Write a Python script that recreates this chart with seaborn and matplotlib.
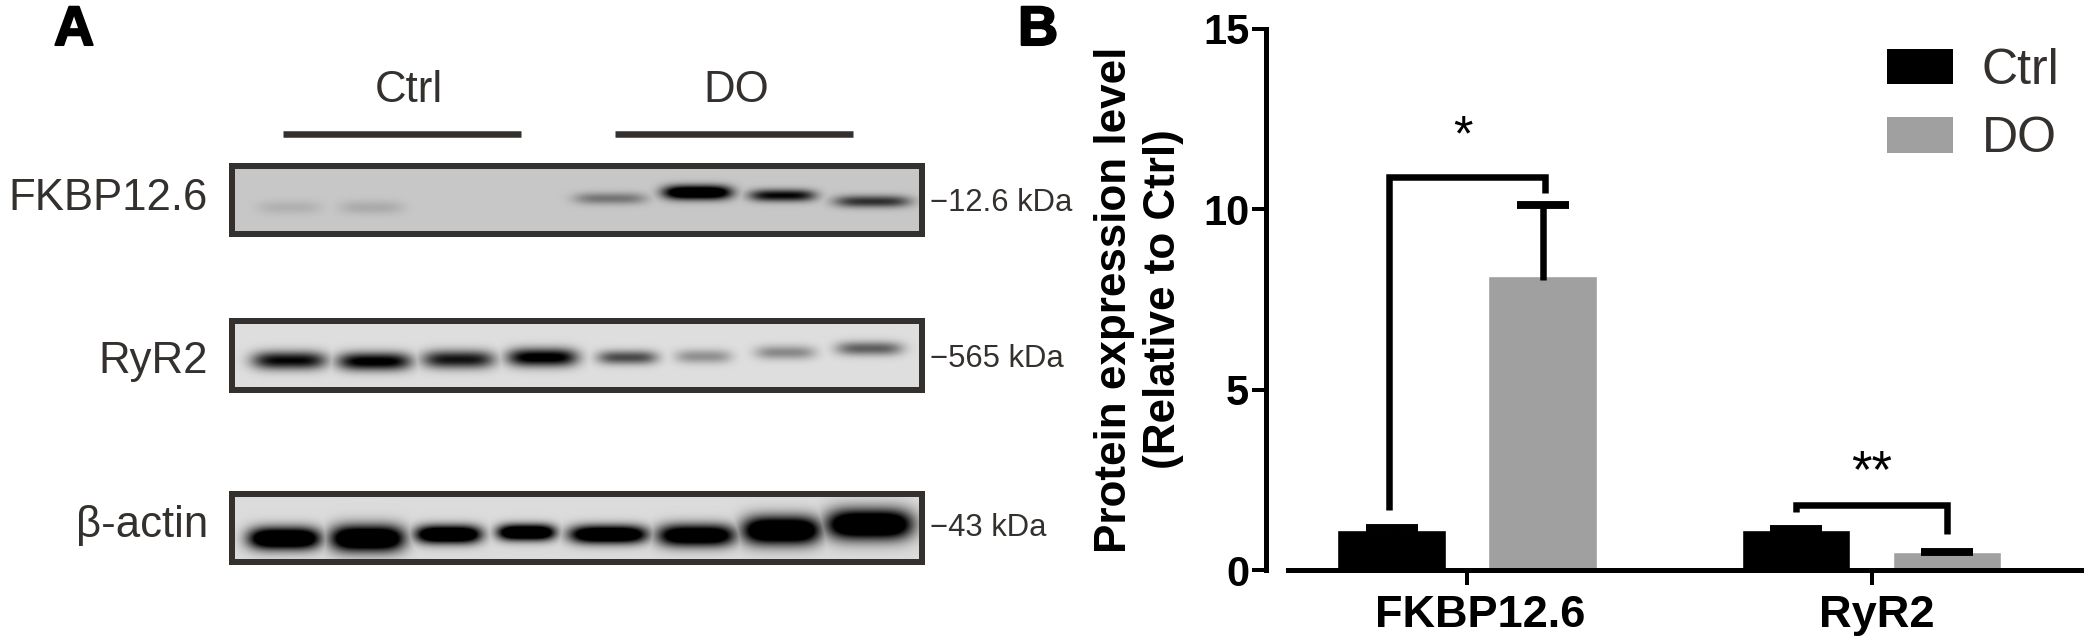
import numpy as np
import pandas as pd
import matplotlib
matplotlib.use("Agg")
import matplotlib.pyplot as plt
from matplotlib.patches import Patch
from matplotlib.transforms import offset_copy
import matplotlib.patheffects as pe
import seaborn as sns

sns.set_theme(style="white")
plt.rcParams["font.family"] = ["Liberation Sans", "DejaVu Sans"]

# ---------- data ----------
proteins = ["FKBP12.6", "RyR2"]
groups = ["Ctrl", "DO"]
ctrl_means = [1.12, 1.12]
do_means = [8.15, 0.5]
ctrl_err = [0.05, 0.01]
do_err = [1.98, 0.01]

blot_names = ["FKBP12.6", "RyR2", "β-actin"]
blot_sizes = ["−12.6 kDa", "−565 kDa", "−43 kDa"]
fkbp_bands = [0.07, 0.09, 0.26, 0.95, 0.62, 0.48]
ryr2_bands = [0.62, 0.68, 0.58, 0.70, 0.42, 0.22, 0.24, 0.36]
actin_bands = [1.00, 1.00, 1.00, 1.00, 0.97, 0.90, 1.00, 1.00]

# ---------- layout (pixels of the 2084x644 picture) ----------
W, H = 2084, 644
fig = plt.figure(figsize=(W / 100, H / 100), dpi=100, facecolor="white")


def axes_px(x0, y0, x1, y1):
    return fig.add_axes([x0 / W, 1 - y1 / H, (x1 - x0) / W, (y1 - y0) / H])


PT = 0.72  # points per pixel at 100 dpi
INK = "#33302e"
GREY = "#a0a0a0"

# lane centres, in blot pixels from the left edge of the blot
fkbp_x = [57, 139, 378, 465, 550, 640]
ryr_x = [57, 142, 226, 310, 395, 471, 553, 637]
actin_x = [52, 135, 216, 294, 376, 464, 549, 637]
fkbp_y = [41, 41, 32, 26, 29, 35]
ryr_y = [39, 40, 38, 36, 36, 35, 31, 27]
actin_y = [44, 44, 40, 38, 40, 41, 36, 30]
fkbp_w = [32, 32, 36, 34, 33, 38]
ryr_w = [37, 37, 36, 35, 30, 28, 30, 33]
actin_w = [36, 37, 33, 29, 39, 39, 39, 43]
fkbp_h = [7, 7, 6, 7, 6, 6]
ryr_h = [9, 9, 9, 9, 7, 7, 7, 7]
actin_h = [11, 13, 9, 8, 9, 11, 14, 15]


def blot_image(width, height, bg, xs, ys, ws, hs, levels):
    yy, xx = np.mgrid[0:height, 0:width]
    img = np.zeros((height, width))
    for x, y, w, h, v in zip(xs, ys, ws, hs, levels):
        dx = (xx - x) / w
        dy = (yy - y) / h
        img = np.maximum(img, v * 1.6 * np.exp(-(dx ** 4) - dy ** 2))
    return bg * (1 - np.clip(img, 0, 1))


blots = [
    (163, 237, 0.78, fkbp_x, fkbp_y, fkbp_w, fkbp_h, fkbp_bands, 199, 203),
    (318, 393, 0.87, ryr_x, ryr_y, ryr_w, ryr_h, ryr2_bands, 361, 359),
    (491, 565, 0.86, actin_x, actin_y, actin_w, actin_h, actin_bands, 526, 528),
]
for i, (top, bot, bg, xs, ys, ws, hs, lv, ly, ky) in enumerate(blots):
    ax = axes_px(232, top + 3, 922, bot - 3)
    img = blot_image(690, bot - top - 6, bg, xs, ys, ws, hs, lv)
    sns.heatmap(img, ax=ax, cmap="gray", vmin=0, vmax=1, cbar=False,
                xticklabels=False, yticklabels=False)
    for s in ax.spines.values():
        s.set_visible(True)
        s.set_color(INK)
        s.set_linewidth(6 * PT)
    fig.text(208 / W, 1 - ly / H, blot_names[i], ha="right", va="center",
             fontsize=31.5, color=INK)
    fig.text(930 / W, 1 - ky / H, blot_sizes[i], ha="left", va="center",
             fontsize=22.3, color=INK)

# group headers of panel A
fig.text(409 / W, 1 - 91 / H, groups[0], ha="center", va="center", fontsize=31.5, color=INK)
fig.text(736 / W, 1 - 91 / H, groups[1], ha="center", va="center", fontsize=31.5, color=INK)
for x0, x1 in [(283, 521), (615, 853)]:
    fig.add_artist(plt.Line2D([x0 / W, x1 / W], [1 - 134 / H] * 2, color=INK,
                              lw=6.5 * PT, solid_capstyle="butt"))

heavy = [pe.withStroke(linewidth=1.5, foreground="black")]
fig.text(54 / W, 1 - 45 / H, "A", fontsize=40, fontweight="bold", color="black",
         ha="left", va="baseline", path_effects=heavy)
fig.text(1018 / W, 1 - 45 / H, "B", fontsize=40, fontweight="bold", color="black",
         ha="left", va="baseline", path_effects=heavy)

# ---------- panel B ----------
AX_L, AX_R = 1288, 2084
Y15, Y0 = 29, 570
ax = axes_px(AX_L, Y15, AX_R, Y0)

df = pd.DataFrame({
    "protein": proteins * 2,
    "group": [groups[0]] * 2 + [groups[1]] * 2,
    "value": ctrl_means + do_means,
})
CX0, CX1 = 1467, 1871.5
unit = CX1 - CX0
sns.barplot(data=df, x="protein", y="value", hue="group", order=proteins,
            hue_order=groups, palette=["black", GREY], width=302 / unit, gap=0.28,
            errorbar=None, ax=ax, legend=False, saturation=1)
ax.set_xlim((AX_L - CX0) / unit, (AX_R - CX0) / unit)
ax.set_ylim(0, 15)

half = 75.5 / unit
LW = 6.5 * PT
for i in range(2):
    for x, m, e in ((i - half, ctrl_means[i], ctrl_err[i]), (i + half, do_means[i], do_err[i])):
        eb = ax.errorbar([x], [m], yerr=[[min(0.1, e)], [e]], color="black", elinewidth=LW,
                         capsize=26 * PT, capthick=LW + 1, fmt="none", zorder=4)
        eb[1][0].set_visible(False)

# significance brackets
brackets = [
    ([-half - 0.005, -half - 0.005, half + 0.005, half + 0.005], [1.65, 10.9, 10.9, 10.45]),
    ([1 - half, 1 - half, 1 + half, 1 + half], [1.6, 1.8, 1.8, 1.0]),
]
for xs, ys in brackets:
    ax.plot(xs, ys, color="black", lw=LW, solid_joinstyle="miter",
            solid_capstyle="butt", zorder=5)
ax.text(-0.01, 12.0, "*", ha="center", va="center", fontsize=36, color="black")
ax.text(1.0, 2.68, "**", ha="center", va="center", fontsize=38, color="black")

# axes
sns.despine(ax=ax)
ax.spines["left"].set_position(("outward", 22 * PT))
ax.spines["left"].set_bounds(0, 15)
ax.spines["left"].set_linewidth(5 * PT)
ax.spines["bottom"].set_linewidth(5 * PT)
ax.spines["left"].set_color("black")
ax.spines["bottom"].set_color("black")
ax.set_yticks([0, 5, 10, 15])
ax.tick_params(axis="y", left=True, length=14 * PT, width=4 * PT, color="black",
               labelsize=30, pad=2, labelcolor="black")
ax.tick_params(axis="x", bottom=True, length=15 * PT, width=4 * PT, color="black",
               labelsize=32.5, pad=7, labelcolor="black")
for t in ax.get_xticklabels() + ax.get_yticklabels():
    t.set_fontweight("bold")
# the category labels sit a little to the right of their ticks
for t, dx in zip(ax.get_xticklabels(), [13, 5]):
    t.set_transform(offset_copy(t.get_transform(), fig=fig, x=dx * PT, y=0, units="points"))
ax.set_xlabel("")
ax.set_ylabel("Protein expression level\n(Relative to Ctrl)", fontsize=31.7,
              fontweight="bold", color="black", labelpad=14, linespacing=1.25)
ax.patch.set_alpha(0)

handles = [Patch(facecolor="black", edgecolor="none", label=groups[0]),
           Patch(facecolor=GREY, edgecolor="none", label=groups[1])]
ax.legend(handles=handles, loc="upper left",
          bbox_to_anchor=((1887 - AX_L) / (AX_R - AX_L), 1 - (48 - Y15) / (Y0 - Y15)),
          frameon=False, fontsize=36, handlelength=1.32, handleheight=0.72,
          handletextpad=0.58, labelspacing=0.45, borderpad=0, borderaxespad=0,
          labelcolor=INK)

fig.savefig("out.png", dpi=100, facecolor="white")
